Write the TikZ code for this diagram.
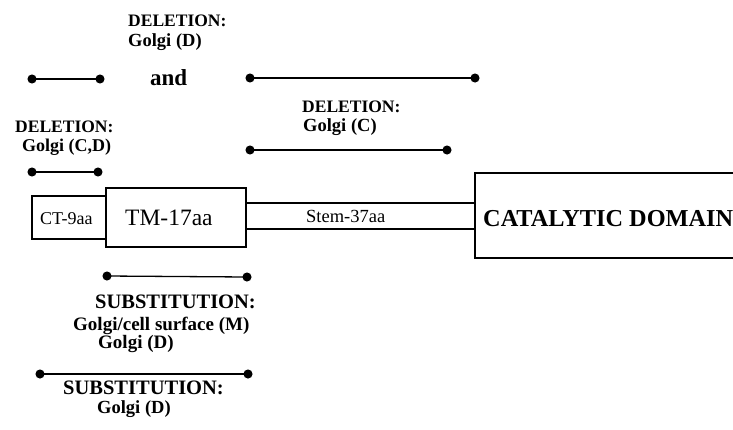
\documentclass[tikz,border=0pt]{standalone}
\usepackage{fontspec}
\setmainfont{Liberation Serif}
\usetikzlibrary{arrows.meta}
\begin{document}
\begin{tikzpicture}[x=1pt,y=-1pt,
  box/.style={draw, line width=1.1pt, inner sep=0pt, outer sep=0pt},
  bar/.style={line width=1.3pt, {Circle[length=9pt]}-{Circle[length=9pt]}, shorten <=-4.5pt, shorten >=-4.5pt},
  lbl/.style={inner sep=0pt, anchor=base west, font=\fontsize{#1}{#1}\selectfont\bfseries}
]
\useasboundingbox (0,0) rectangle (733,429);
% domain boxes
\node[box, minimum width=74pt, minimum height=43pt] (ct) at (69,217.5) {};
\node[inner sep=0pt, anchor=base west, font=\fontsize{18}{18}\selectfont] (ctt) at (40,224) {CT-9aa};
\node[box, minimum width=140pt, minimum height=59pt] (tm) at (176,217.5) {};
\node[inner sep=0pt, anchor=base west, font=\fontsize{23.5}{24}\selectfont] (tmt) at (125,225) {TM-17aa};
\node[box, minimum width=229pt, minimum height=26pt] (stem) at (360.5,216) {};
\node[inner sep=0pt, anchor=base west, font=\fontsize{18.5}{19}\selectfont] (stemt) at (306,222) {Stem-37aa};
\node[box, minimum width=275pt, minimum height=85pt, anchor=west] (cat) at (475,215.5) {};
\node[inner sep=0pt, anchor=base west, font=\fontsize{24.3}{25}\selectfont\bfseries] (catt) at (483,226) {CATALYTIC DOMAIN};
% top deletion (D)
\node[lbl=17.5] (delD) at (128,26) {DELETION:};
\node[lbl=18.5] (delD2) at (128,46) {Golgi (D)};
\coordinate (a1) at (32,79); \coordinate (a2) at (100,79);
\draw[bar] (a1) -- (a2);
\node[lbl=23] (and) at (150,85) {and};
\coordinate (b1) at (250,78); \coordinate (b2) at (475,78);
\draw[bar] (b1) -- (b2);
% deletion (C)
\node[lbl=17.5] (delC) at (302,112) {DELETION:};
\node[lbl=18.5] (delC2) at (303,131) {Golgi (C)};
\coordinate (c1) at (250,150); \coordinate (c2) at (447,150);
\draw[bar] (c1) -- (c2);
% deletion (C,D)
\node[lbl=17.5] (delCD) at (15,132) {DELETION:};
\node[lbl=18] (delCD2) at (22,151) {Golgi (C,D)};
\coordinate (d1) at (32,172); \coordinate (d2) at (98,172);
\draw[bar] (d1) -- (d2);
% substitution (M)
\coordinate (e1) at (107,276); \coordinate (e2) at (247,277);
\draw[bar] (e1) -- (e2);
\node[lbl=20.5] (subM) at (95,308) {SUBSTITUTION:};
\node[lbl=19] (subM2) at (73,330) {Golgi/cell surface (M)};
\node[lbl=19] (subM3) at (98,348) {Golgi (D)};
% substitution (D)
\coordinate (f1) at (40,374); \coordinate (f2) at (248,374);
\draw[bar] (f1) -- (f2);
\node[lbl=20.5] (subD) at (63,394) {SUBSTITUTION:};
\node[lbl=18.5] (subD2) at (97,413) {Golgi (D)};
\end{tikzpicture}
\end{document}
